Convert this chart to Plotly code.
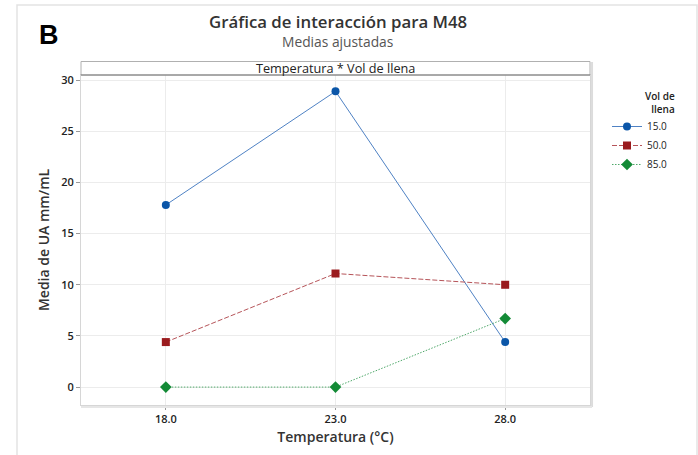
import plotly.graph_objects as go

# Adjusted means of M48 by temperature and fill volume
temperatura = [18.0, 23.0, 28.0]
vol_labels = ["15.0", "50.0", "85.0"]
media_15 = [17.8, 28.9, 4.4]
media_50 = [4.4, 11.1, 10.0]
media_85 = [0.0, 0.0, 6.7]
y_ticks = [0, 5, 10, 15, 20, 25, 30]
x_ticks = [18.0, 23.0, 28.0]

# name, values, marker colour, line colour, dash, symbol, size
series = [
    (vol_labels[0], media_15, "#0b56a8", "#4f82c4", "solid", "circle", 8),
    (vol_labels[1], media_50, "#9a1b1e", "#b65459", "5px,2px", "square", 8),
    (vol_labels[2], media_85, "#138a36", "#4fa86a", "1.5px,1.5px", "diamond", 9),
]

FONT = "Open Sans"
W, H = 698, 455
ML, MR, MT, MB = 81, 108, 75, 50
PW, PH = W - ML - MR, H - MT - MB


def px_x(p):
    return (p - ML) / PW


def px_y(p):
    return (H - MB - p) / PH


fig = go.Figure()
for name, vals, mcolor, lcolor, dash, symbol, size in series:
    fig.add_trace(go.Scatter(
        x=temperatura, y=vals, name=name, mode="lines+markers",
        line=dict(color=lcolor, width=1, dash=dash),
        marker=dict(color=mcolor, symbol=symbol, size=size),
    ))

shapes = [
    # outer frame
    dict(type="rect", xref="paper", yref="paper",
         x0=px_x(17), x1=px_x(697), y0=px_y(470), y1=px_y(5),
         line=dict(color="#e3e3e3", width=1.5), layer="below"),
    # panel shadow
    dict(type="line", xref="paper", yref="paper", x0=1.004, x1=1.004,
         y0=-0.006, y1=px_y(62), line=dict(color="#dcdcdc", width=2)),
    dict(type="line", xref="paper", yref="paper", x0=0, x1=1.004,
         y0=-0.006, y1=-0.006, line=dict(color="#e6e6e6", width=2)),
    # strip header
    dict(type="rect", xref="paper", yref="paper", x0=0, x1=1,
         y0=1, y1=px_y(61.5), line=dict(color="#b0b0b0", width=1),
         fillcolor="white"),
    dict(type="line", xref="paper", yref="paper", x0=0, x1=1,
         y0=1, y1=1, line=dict(color="#7a7a7a", width=1.2)),
]

annotations = [
    dict(text="Temperatura * Vol de llena", xref="paper", yref="paper",
         x=0.5, y=px_y(68.5), xanchor="center", yanchor="middle",
         showarrow=False, font=dict(family=FONT, size=12.7, color="#222")),
    dict(text="<b>B</b>", xref="paper", yref="paper",
         x=px_x(37), y=px_y(35), xanchor="left", yanchor="middle",
         showarrow=False, font=dict(family="Liberation Sans", size=27, color="black")),
    dict(text="Gráfica de interacción para M48", xref="paper", yref="paper",
         x=px_x(338), y=px_y(22), xanchor="center", yanchor="middle",
         showarrow=False,
         font=dict(family=FONT, size=16.8, color="#333", weight=600)),
    dict(text="Medias ajustadas", xref="paper", yref="paper",
         x=px_x(337), y=px_y(42), xanchor="center", yanchor="middle",
         showarrow=False, font=dict(family=FONT, size=13.8, color="#555")),
    # legend heading, right-aligned above the entries
    dict(text="Vol de<br>llena", xref="paper", yref="paper",
         x=px_x(677), y=px_y(87), xanchor="right", yanchor="top",
         align="right", showarrow=False,
         font=dict(family=FONT, size=10, color="#222", weight=600)),
]

fig.update_layout(
    width=W, height=H,
    margin=dict(l=ML, r=MR, t=MT, b=MB),
    paper_bgcolor="white", plot_bgcolor="white",
    font=dict(family=FONT, color="#222"),
    shapes=shapes, annotations=annotations,
    legend=dict(
        font=dict(family=FONT, size=10, color="#222"),
        x=px_x(607), xanchor="left", y=px_y(112), yanchor="top",
        bgcolor="rgba(0,0,0,0)", itemwidth=30,
    ),
    xaxis=dict(
        range=[15.5, 30.5], tickvals=x_ticks,
        ticktext=[f"{v:.1f}" for v in x_ticks],
        showgrid=True, gridcolor="#ececec", gridwidth=1,
        zeroline=False, showline=True, linecolor="#d6d6d6", mirror=True,
        ticks="outside", ticklen=4, tickcolor="#999",
        tickfont=dict(family=FONT, size=11, color="#222", weight=600),
        title=dict(text="Temperatura (°C)", standoff=6,
                   font=dict(family=FONT, size=14, color="#333", weight=600)),
    ),
    yaxis=dict(
        range=[-1.75, 30.5], tickvals=y_ticks,
        showgrid=True, gridcolor="#ececec", gridwidth=1,
        zeroline=False, showline=True, linecolor="#d6d6d6", mirror=True,
        ticks="outside", ticklen=4, tickcolor="#999",
        tickfont=dict(family=FONT, size=11, color="#222", weight=600),
        title=dict(text="Media de UA mm/mL", standoff=8,
                   font=dict(family=FONT, size=14, color="#333", weight=600)),
    ),
)

fig.write_html("out.html")
